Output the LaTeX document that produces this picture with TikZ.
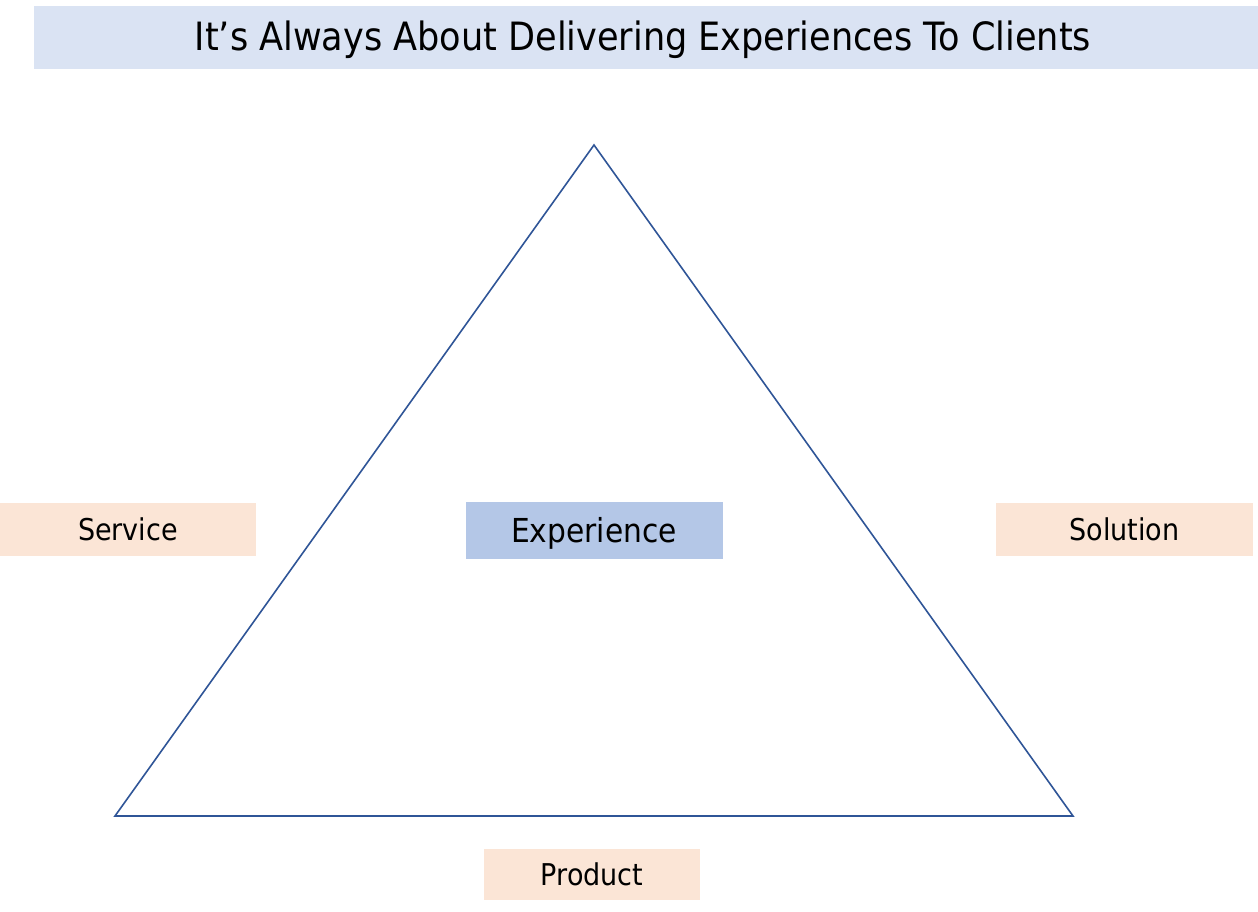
\documentclass[tikz,border=0pt]{standalone}
\usepackage{fontspec}
\setmainfont{DejaVu Sans Condensed}
\definecolor{titlefill}{HTML}{DAE3F3}
\definecolor{expfill}{HTML}{B4C7E7}
\definecolor{peach}{HTML}{FBE5D6}
\definecolor{triline}{HTML}{2F5597}
\tikzset{
  box/.style={inner sep=0pt, outer sep=0pt, text=black},
  peachbox/.style={box, fill=peach},
}
\begin{document}
\begin{tikzpicture}[x=1pt,y=-1pt]
\useasboundingbox (0,0) rectangle (1258,912);
% title
\node[box, fill=titlefill, minimum width=1224pt, minimum height=63pt, anchor=north west] (title) at (34,6) {};
\node[box, font=\fontsize{39}{46}\selectfont] (titletext) at (643,40) {It’s Always About Delivering Experiences To Clients};
% triangle
\coordinate (apex) at (594,145);
\coordinate (bl) at (115,816);
\coordinate (br) at (1073,816);
\draw[triline, line width=1.6pt, line join=miter] (apex) -- (br) -- (bl) -- cycle;
% center
\node[box, fill=expfill, minimum width=257pt, minimum height=57pt] (exp) at (594.5,530.5) {};
\node[box, font=\fontsize{33}{40}\selectfont] (exptext) at (594,533) {Experience};
% corners
\node[peachbox, minimum width=256pt, minimum height=53pt, font=\fontsize{30}{36}\selectfont] (service) at (128,529) {Service};
\node[peachbox, minimum width=257pt, minimum height=53pt, font=\fontsize{30}{36}\selectfont] (solution) at (1124.5,529) {Solution};
\node[peachbox, minimum width=216pt, minimum height=51pt, font=\fontsize{30}{36}\selectfont] (product) at (592,874) {Product};
\end{tikzpicture}
\end{document}
